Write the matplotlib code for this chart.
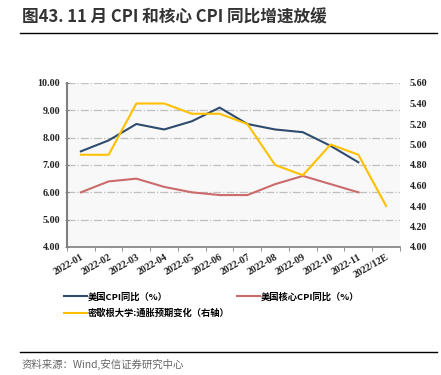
import numpy as np
import matplotlib.pyplot as plt

months = ['2022-01', '2022-02', '2022-03', '2022-04', '2022-05', '2022-06',
          '2022-07', '2022-08', '2022-09', '2022-10', '2022-11', '2022/12E']
cpi = [7.5, 7.9, 8.5, 8.3, 8.6, 9.1, 8.5, 8.3, 8.2, 7.7, 7.1]
core_cpi = [6.0, 6.4, 6.5, 6.2, 6.0, 5.9, 5.9, 6.3, 6.6, 6.3, 6.0]
michigan = [4.9, 4.9, 5.4, 5.4, 5.3, 5.3, 5.2, 4.8, 4.7, 5.0, 4.9, 4.4]

CJK = ['Noto Sans CJK SC', 'DejaVu Sans']
SERIF = 'Liberation Serif'

fig = plt.figure(figsize=(4.41, 3.75), dpi=100)
fig.patch.set_facecolor('white')

# titulo y lineas de cabecera / pie
fig.text(22/441, 1-17/375, '图43. 11 月 CPI 和核心 CPI 同比增速放缓', family=CJK,
         fontsize=12, fontweight='bold', color='#333333', va='center')
fig.add_artist(plt.Line2D([20/441, 437/441], [1-33/375, 1-33/375], color='black', lw=1.0))
fig.add_artist(plt.Line2D([20/441, 437/441], [1-352/375, 1-352/375], color='black', lw=1.0))
fig.text(22/441, 1-364/375, '资料来源：Wind,安信证券研究中心', family=CJK,
         fontsize=7.5, color='#666666', va='center', style='italic')

ax = fig.add_axes([67/441, 1-247/375, 333/441, 164/375])
ax.set_facecolor('#f8f8f8')
x = np.arange(len(months))

l1, = ax.plot(x[:len(cpi)], cpi, color='#2f4b6e', lw=1.5, label='美国CPI同比（%）')
l2, = ax.plot(x[:len(core_cpi)], core_cpi, color='#cc6b6b', lw=1.5, label='美国核心CPI同比（%）')
ax.set_ylim(4, 10)
ax.set_xlim(-0.5, len(months) - 0.5)
ax.set_yticks(np.arange(4, 10.01, 1))
ax.set_yticklabels(['{:.2f}'.format(v) for v in np.arange(4, 10.01, 1)])
ax.grid(axis='y', color='#c0c0c0', lw=0.9, linestyle='-.')
ax.set_axisbelow(True)

ax.set_xticks(x)
ax.set_xticklabels(months, rotation=30, ha='right', rotation_mode='anchor')
ax.set_xticks(np.arange(-0.5, len(months), 1), minor=True)
ax.tick_params(axis='x', which='major', length=0, pad=4)
ax.tick_params(axis='x', which='minor', length=3, color='#808080')
ax.tick_params(axis='y', length=3, direction='inout', color='#808080')

for s in ['top', 'right']:
    ax.spines[s].set_visible(False)
ax.spines['left'].set_color('#808080')
ax.spines['left'].set_linewidth(1.5)
ax.spines['bottom'].set_color('#808080')
ax.spines['bottom'].set_linewidth(1.2)

ax2 = ax.twinx()
l3, = ax2.plot(x, michigan, color='#ffc000', lw=1.5, label='密歇根大学:通胀预期变化（右轴）')
ax2.set_ylim(4.0, 5.6)
ax2.set_yticks(np.arange(4.0, 5.61, 0.2))
ax2.set_yticklabels(['{:.2f}'.format(v) for v in np.arange(4.0, 5.61, 0.2)])
ax2.tick_params(axis='y', length=0, pad=7)
for s in ['top', 'right', 'left', 'bottom']:
    ax2.spines[s].set_visible(False)

for lab in ax.get_xticklabels() + ax.get_yticklabels() + ax2.get_yticklabels():
    lab.set_family(SERIF)
    lab.set_fontweight('bold')
    lab.set_fontsize(7.2)
    lab.set_color('#222222')

fig.legend([l1, l3, l2], [l1.get_label(), l3.get_label(), l2.get_label()],
           ncol=2, loc='upper left', bbox_to_anchor=(56/441, 1-284/375),
           frameon=False, prop={'family': CJK, 'size': 6.7, 'weight': 'bold'},
           handlelength=2.4, handletextpad=0.15, columnspacing=0.8, labelspacing=0.75)

fig.savefig('out.png', dpi=100)
